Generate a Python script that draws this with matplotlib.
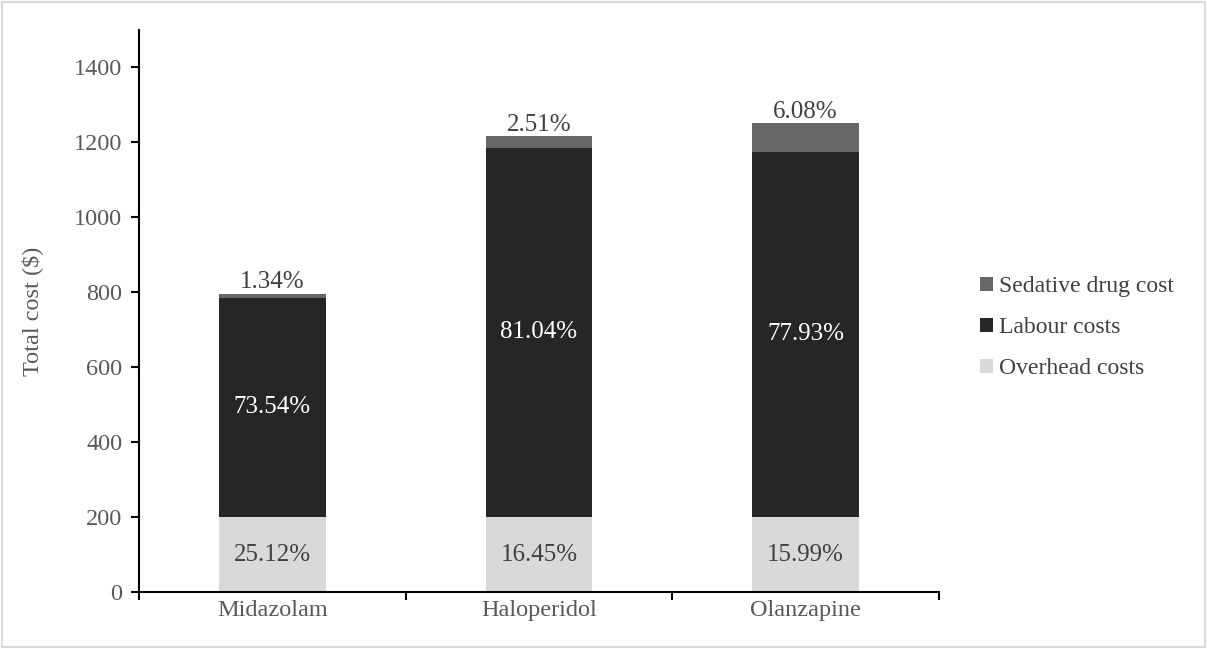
import matplotlib
matplotlib.use("Agg")
import matplotlib.pyplot as plt
import numpy as np

# Data
drugs = ["Midazolam", "Haloperidol", "Olanzapine"]
overhead = [200.0, 200.0, 200.0]
labour = [585.5, 985.3, 974.7]
sedative = [10.7, 30.5, 76.0]
overhead_pct = ["25.12%", "16.45%", "15.99%"]
labour_pct = ["73.54%", "81.04%", "77.93%"]
sedative_pct = ["1.34%", "2.51%", "6.08%"]

plt.rcParams['font.family'] = ['Liberation Serif', 'DejaVu Serif']

fig = plt.figure(figsize=(12.07, 6.49), dpi=100)
ax = fig.add_axes([139/1207, 57/649, 800/1207, 562/649])

# light grey frame around the figure
fig.patches.append(plt.Rectangle((0.002, 0.003), 0.996, 0.994, transform=fig.transFigure,
                                 fill=False, edgecolor="#d9d9d9", linewidth=1.5))

x = np.arange(len(drugs))
w = 0.4
c_over = "#d9d9d9"
c_lab = "#262626"
c_sed = "#666666"

b1 = ax.bar(x, overhead, w, color=c_over, label="Overhead costs")
b2 = ax.bar(x, labour, w, bottom=overhead, color=c_lab, label="Labour costs")
bottom2 = np.array(overhead) + np.array(labour)
b3 = ax.bar(x, sedative, w, bottom=bottom2, color=c_sed, label="Sedative drug cost")

for i in range(len(drugs)):
    ax.text(x[i], overhead[i] / 2, overhead_pct[i], ha="center", va="center",
            fontsize=18, color="#404040")
    ax.text(x[i], overhead[i] + labour[i] / 2, labour_pct[i], ha="center", va="center",
            fontsize=18, color="white")
    ax.text(x[i], bottom2[i] + sedative[i] + 2, sedative_pct[i], ha="center", va="bottom",
            fontsize=18, color="#404040")

ax.set_xlim(-0.5, 2.5)
ax.set_ylim(0, 1500)
ax.set_yticks(range(0, 1401, 200))
ax.set_xticks(x)
ax.set_xticklabels(drugs)
ax.set_xticks(np.arange(-0.5, 2.6, 1), minor=True)
ax.tick_params(axis="x", which="major", length=0, pad=6, labelsize=17.5, labelcolor="#595959")
ax.tick_params(axis="x", which="minor", length=6, width=1.5, direction="out")
ax.tick_params(axis="y", length=6, width=1.5, direction="out", labelsize=17.5, labelcolor="#595959", pad=6)

for s in ["top", "right"]:
    ax.spines[s].set_visible(False)
for s in ["left", "bottom"]:
    ax.spines[s].set_linewidth(1.5)

ax.set_ylabel("Total cost ($)", fontsize=17.5, color="#595959", labelpad=22)

handles = [b3, b2, b1]
ax.legend(handles, [h.get_label() for h in handles], loc="center left",
          bbox_to_anchor=(1.025, 0.47), frameon=False, fontsize=17,
          handlelength=0.55, handleheight=0.55, handletextpad=0.25, labelspacing=0.85,
          labelcolor="#404040")

fig.savefig("out.png", dpi=100)
